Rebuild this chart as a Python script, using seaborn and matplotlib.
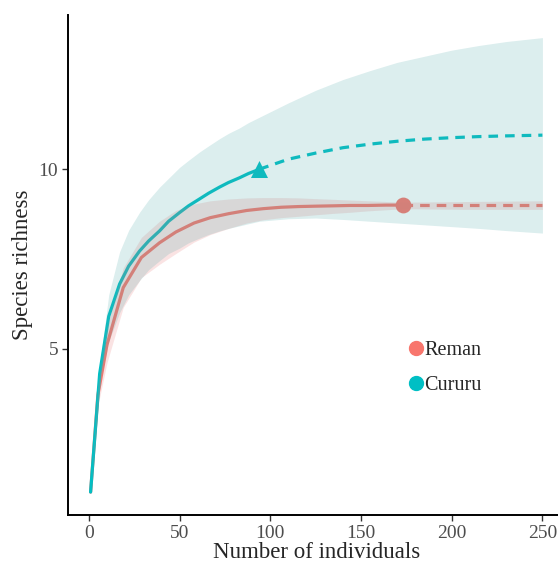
import numpy as np
import pandas as pd
import matplotlib
matplotlib.use("Agg")
import matplotlib.pyplot as plt
from matplotlib.lines import Line2D
import seaborn as sns

# Reman: rarefaction (observed up to 173) and extrapolation
reman_x = [1, 5, 10, 19, 29, 39, 48, 58, 67, 77, 87, 96, 106, 116, 125, 135, 144, 154, 164, 173]
reman_s = [1.0, 3.7, 5.1, 6.7, 7.54, 7.95, 8.25, 8.5, 8.65, 8.76, 8.85, 8.9, 8.94, 8.96, 8.97, 8.98, 8.99, 8.99, 9.0, 9.0]
reman_lo = [1.0, 3.4, 4.6, 6.15, 6.98, 7.35, 7.65, 7.97, 8.18, 8.35, 8.5, 8.59, 8.65, 8.69, 8.73, 8.77, 8.8, 8.84, 8.87, 8.9]
reman_hi = [1.0, 4.0, 5.6, 7.25, 8.1, 8.55, 8.85, 9.03, 9.12, 9.17, 9.2, 9.21, 9.21, 9.2, 9.18, 9.16, 9.14, 9.12, 9.1, 9.08]
reman_ex_x = [173, 190, 210, 230, 250]
reman_ex_s = [9.0, 9.0, 9.0, 9.0, 9.0]
reman_ex_lo = [8.9, 8.89, 8.88, 8.88, 8.88]
reman_ex_hi = [9.08, 9.09, 9.1, 9.11, 9.12]

# Cururu: rarefaction (observed up to 94) and extrapolation
cururu_x = [1, 6, 11, 17, 22, 28, 33, 39, 44, 50, 55, 61, 66, 72, 77, 83, 88, 94]
cururu_s = [1.0, 4.3, 5.9, 6.8, 7.3, 7.72, 8.0, 8.28, 8.55, 8.79, 8.98, 9.17, 9.33, 9.5, 9.63, 9.76, 9.88, 10.0]
cururu_lo = [1.0, 4.0, 5.2, 6.0, 6.5, 6.9, 7.2, 7.45, 7.65, 7.8, 7.95, 8.08, 8.18, 8.28, 8.35, 8.42, 8.48, 8.55]
cururu_hi = [1.0, 4.5, 6.5, 7.7, 8.3, 8.8, 9.15, 9.5, 9.75, 10.05, 10.25, 10.48, 10.65, 10.85, 11.0, 11.15, 11.3, 11.45]
cururu_ex_x = [94, 110, 125, 140, 155, 170, 185, 200, 215, 230, 250]
cururu_ex_s = [10.0, 10.28, 10.45, 10.6, 10.7, 10.78, 10.84, 10.88, 10.91, 10.93, 10.95]
cururu_ex_lo = [8.55, 8.62, 8.64, 8.6, 8.55, 8.5, 8.45, 8.4, 8.35, 8.29, 8.22]
cururu_ex_hi = [11.45, 11.85, 12.2, 12.5, 12.75, 12.98, 13.15, 13.32, 13.45, 13.56, 13.67]

obs_x = [173, 94]
obs_s = [9.0, 10.0]
sites = ["Reman", "Cururu"]
colors = {"Reman": "#F8766D", "Cururu": "#00BFC4"}
fills = {"Reman": "#E67676", "Cururu": "#50AAAA"}

sns.set_style("ticks")
plt.rcParams['font.family'] = ['Liberation Serif', 'DejaVu Serif']

fig = plt.figure(figsize=(5.58, 5.62), dpi=100)
ax = fig.add_axes([68 / 558, 47 / 562, 497 / 558, 500 / 562])

curves = {
    "Reman": (reman_x, reman_s, reman_lo, reman_hi, reman_ex_x, reman_ex_s, reman_ex_lo, reman_ex_hi),
    "Cururu": (cururu_x, cururu_s, cururu_lo, cururu_hi, cururu_ex_x, cururu_ex_s, cururu_ex_lo, cururu_ex_hi),
}

# points first, then lines, then ribbons on top (ggplot layer order)
ax.scatter(obs_x[:1], obs_s[:1], s=130, marker="o", color=colors["Reman"], zorder=2, linewidths=0)
ax.scatter(obs_x[1:], obs_s[1:], s=150, marker="^", color=colors["Cururu"], zorder=2, linewidths=0)

for site in sites:
    rx, rs, rlo, rhi, ex, es, elo, ehi = curves[site]
    c = colors[site]
    df_r = pd.DataFrame({"x": rx, "s": rs})
    df_e = pd.DataFrame({"x": ex, "s": es})
    sns.lineplot(data=df_r, x="x", y="s", color=c, lw=2.3, ax=ax, zorder=3)
    sns.lineplot(data=df_e, x="x", y="s", color=c, lw=2.3, ax=ax, zorder=3,
                 dashes=False, linestyle=(0, (3, 2.2)))

for site in sites:
    rx, rs, rlo, rhi, ex, es, elo, ehi = curves[site]
    ax.fill_between(rx + ex[1:], rlo + elo[1:], rhi + ehi[1:], color=fills[site], alpha=0.2, lw=0, zorder=4)

ax.set_xlim(-11.45, 262.45)
ax.set_ylim(0.36, 14.3)
ax.set_xticks([0, 50, 100, 150, 200, 250])
ax.set_yticks([5, 10])
ax.tick_params(labelsize=14, colors="#4D4D4D", length=4, width=1, pad=3)
ax.tick_params(axis="both", color="#333333")
for sp in ["left", "bottom"]:
    ax.spines[sp].set_linewidth(1.4)
    ax.spines[sp].set_color("black")
sns.despine(ax=ax)
ax.set_xlabel("Number of individuals", fontsize=16.5, labelpad=0)
ax.set_ylabel("Species richness", fontsize=16.5, labelpad=4)

handles = [Line2D([], [], marker="o", ls="", color=colors[s], markersize=10) for s in sites]
fig.legend(handles, sites, loc="upper left", bbox_to_anchor=(394 / 558, 1 - 331 / 562),
           frameon=False, fontsize=14.5, handletextpad=-0.2, labelspacing=0.8,
           handlelength=1.2, borderpad=0)

fig.savefig("out.png", dpi=100)
